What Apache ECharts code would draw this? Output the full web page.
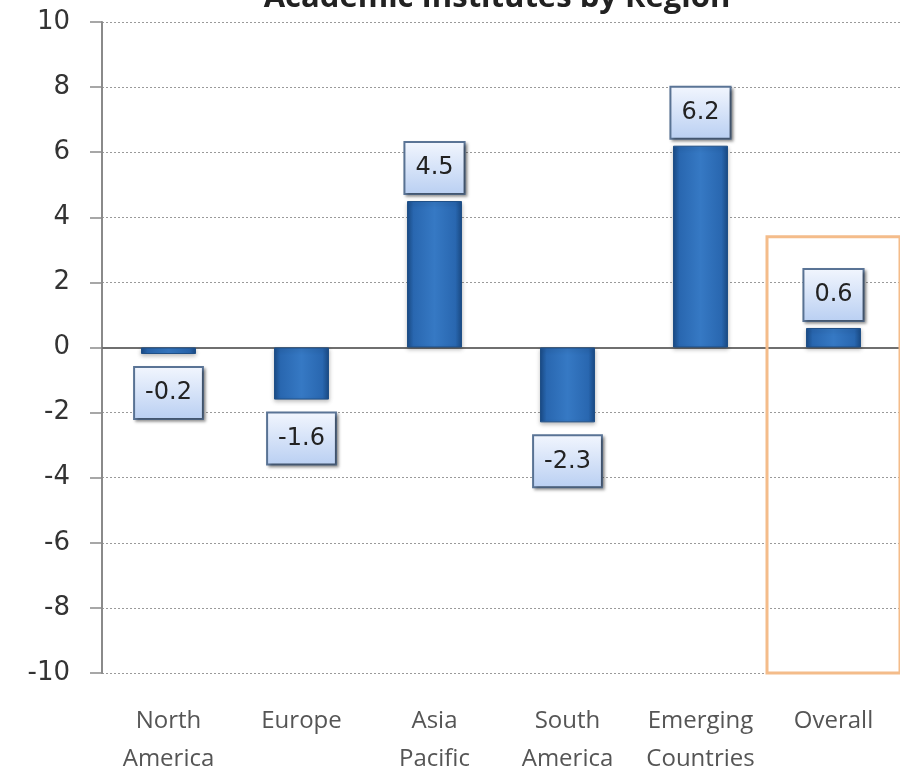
<!DOCTYPE html>
<html>
<head>
<meta charset="utf-8">
<script src="https://cdn.jsdelivr.net/npm/echarts@6/dist/echarts.min.js"></script>
<style>html,body{margin:0;padding:0;background:#fff;}#c{width:900px;height:768px;}</style>
</head>
<body>
<div id="c"></div>
<script>
const titleText = 'Academic Institutes by Region';
const categories = ['North\nAmerica', 'Europe', 'Asia\nPacific', 'South\nAmerica', 'Emerging\nCountries', 'Overall'];
const values = [-0.2, -1.6, 4.5, -2.3, 6.2, 0.6];
const yMin = -10, yMax = 10, yStep = 2;
const highlightCategory = 'Overall';
const highlightTop = 3.4;

const chart = echarts.init(document.getElementById('c'));

const barGrad = new echarts.graphic.LinearGradient(0, 0, 1, 0, [
  {offset: 0, color: '#1a4c88'},
  {offset: 0.12, color: '#2967b0'},
  {offset: 0.5, color: '#3679c4'},
  {offset: 0.88, color: '#2967b0'},
  {offset: 1, color: '#1a4c88'}
]);
const labelGrad = new echarts.graphic.LinearGradient(0, 0, 0, 1, [
  {offset: 0, color: '#f2f6fe'},
  {offset: 1, color: '#b9cff2'}
]);

chart.setOption({
  animation: false,
  backgroundColor: '#ffffff',
  title: {
    text: titleText,
    left: 492,
    textAlign: 'center',
    top: -22,
    textStyle: {fontFamily: 'Open Sans', fontWeight: 'bold', fontSize: 31, color: '#222'}
  },
  grid: {left: 102, right: 0, top: 22, bottom: 95, containLabel: false, outerBoundsMode: 'none'},
  xAxis: {
    type: 'category',
    data: categories,
    axisLine: {onZero: true, lineStyle: {color: '#6f6f6f', width: 2}},
    axisTick: {show: false},
    axisLabel: {
      interval: 0, hideOverlap: false,
      margin: 29, fontFamily: 'Open Sans', fontSize: 24, lineHeight: 38, color: '#555',
      verticalAlign: 'top'
    }
  },
  yAxis: {
    type: 'value',
    min: yMin, max: yMax, interval: yStep,
    axisLine: {show: true, lineStyle: {color: '#8a8a8a', width: 2}},
    axisTick: {show: true, length: 12, lineStyle: {color: '#8a8a8a', width: 1.5}},
    axisLabel: {margin: 32, fontFamily: 'DejaVu Sans', fontSize: 26, color: '#333'},
    splitLine: {show: true, lineStyle: {color: '#9a9a9a', type: [2, 2], width: 1}}
  },
  series: [{
    type: 'bar',
    data: values,
    barWidth: 55,
    itemStyle: {
      color: barGrad,
      borderColor: '#1f4f86',
      borderWidth: 1,
      shadowBlur: 4,
      shadowColor: 'rgba(0,0,0,0.25)',
      shadowOffsetY: 2
    },
    label: {
      show: true,
      position: 'outside',
      distance: 8,
      formatter: p => p.value.toFixed(1),
      fontFamily: 'DejaVu Sans',
      fontSize: 24,
      lineHeight: 28,
      color: '#222',
      backgroundColor: labelGrad,
      borderColor: '#5a7496',
      borderWidth: 2,
      padding: [11, 10],
      shadowBlur: 3,
      shadowColor: 'rgba(0,0,0,0.35)',
      shadowOffsetX: 2,
      shadowOffsetY: 2
    },
    labelLayout: function (params) {
      return values[params.dataIndex] < 0 ? {dy: 6} : {};
    },
    markArea: {
      silent: true,
      itemStyle: {color: 'rgba(0,0,0,0)', borderColor: '#f4bc8a', borderWidth: 3},
      data: [[{xAxis: highlightCategory, yAxis: highlightTop}, {xAxis: highlightCategory, yAxis: yMin}]]
    }
  }]
});
</script>
</body>
</html>
